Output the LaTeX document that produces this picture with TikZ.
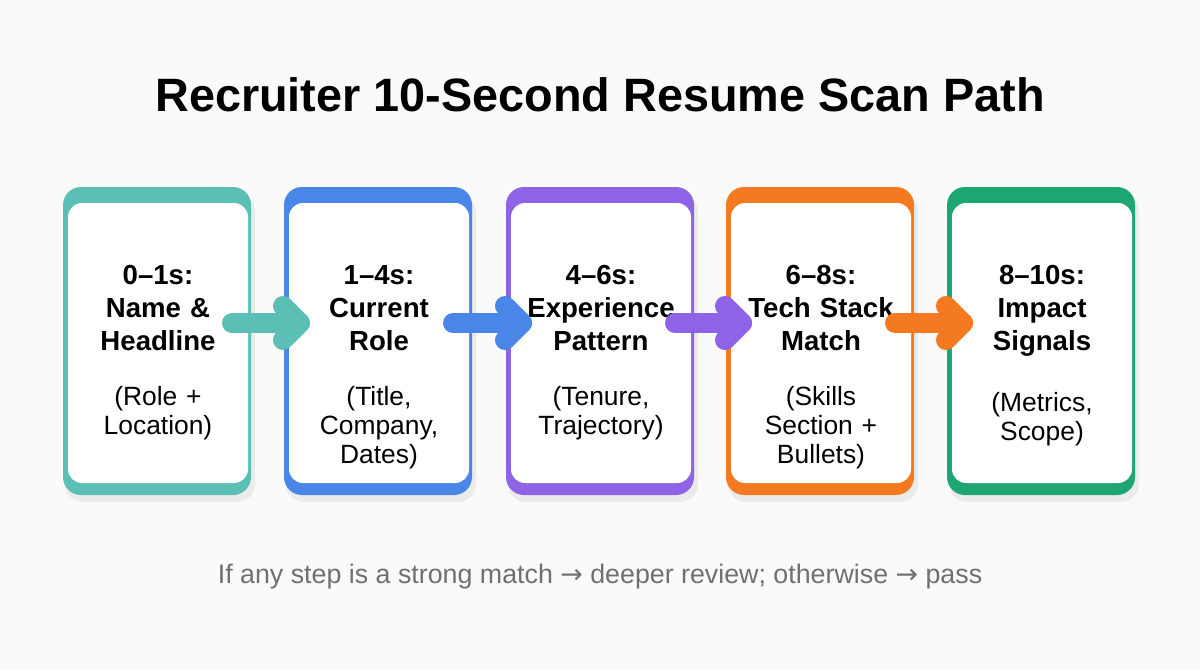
\documentclass[tikz,border=0pt]{standalone}
\usepackage{fontspec}
\setmainfont{Liberation Sans}
\newfontfamily\symfont{DejaVu Sans}
\usetikzlibrary{positioning}
\definecolor{cteal}{HTML}{5CBFB6}
\definecolor{cblue}{HTML}{4A86E8}
\definecolor{cpurple}{HTML}{8E63E6}
\definecolor{corange}{HTML}{F47A22}
\definecolor{cgreen}{HTML}{1DA672}
\definecolor{cgrey}{HTML}{707070}
\tikzset{
  frame/.style={fill=#1, rounded corners=9pt},
  inner/.style={fill=white, rounded corners=7pt},
  steptext/.style={anchor=north, align=center, text width=95pt},
  flow/.style={draw=#1, line width=10pt, line cap=round, line join=round}
}
\begin{document}
\begin{tikzpicture}[x=0.5pt, y=-0.5pt]
  \fill[white!98!black] (0,0) rectangle (1200,670);
  \useasboundingbox (0,0) rectangle (1200,670);

  \node[font=\bfseries\fontsize{23.4}{28}\selectfont] (title) at (600,95) {Recruiter 10-Second Resume Scan Path};

  % --- cards ---
  \foreach \cx/\col/\name/\head/\sub in {
      157/cteal/s1/{0--1s:\\Name \&\\Headline}/{(Role +\\Location)},
      378/cblue/s2/{1--4s:\\Current\\Role}/{(Title,\\Company,\\Dates)},
      600/cpurple/s3/{4--6s:\\Experience\\Pattern}/{(Tenure,\\Trajectory)},
      820/corange/s4/{6--8s:\\Tech Stack\\Match}/{(Skills\\Section +\\Bullets)},
      1041/cgreen/s5/{8--10s:\\Impact\\Signals}/{(Metrics,\\Scope)}} {
    \fill[black, opacity=0.06, rounded corners=9pt] (\cx-92,194) rectangle (\cx+98,502);
    \fill[frame=\col] (\cx-94,187) rectangle (\cx+94,495);
    \fill[inner] (\cx-89,203) rectangle (\cx+91,483);
    \coordinate (\name in) at (\cx-78,323);
    \coordinate (\name out) at (\cx+75,323);
    \node[steptext, font=\bfseries\fontsize{13.8}{16.5}\selectfont] (\name) at (\cx+1,258) {\head};
    \node[steptext, font=\fontsize{13.2}{14.5}\selectfont, below=11pt of \name.south, anchor=north] (\name sub) {\sub};
  }

  % --- arrows between cards ---
  \foreach \a/\b/\col in {s1/s2/cteal, s2/s3/cblue, s3/s4/cpurple, s4/s5/corange} {
    \draw[flow=\col] (\a out) -- (\b in);
    \draw[flow=\col] ([shift={(-17,-17)}]\b in) -- (\b in) -- ([shift={(-17,17)}]\b in);
  }

  \node[text=cgrey, font=\fontsize{13.4}{16}\selectfont] (note) at (600,577)
    {If any step is a strong match {\symfont→} deeper review; otherwise {\symfont→} pass};
\end{tikzpicture}
\end{document}
